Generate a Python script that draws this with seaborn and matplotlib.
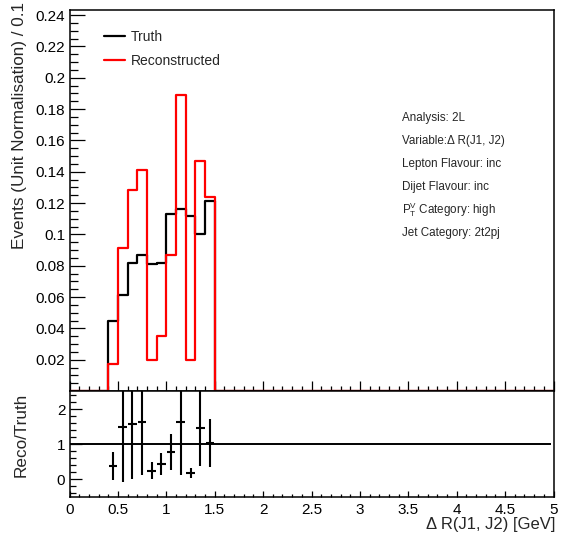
import numpy as np
import pandas as pd
import matplotlib
matplotlib.use("Agg")
import matplotlib.pyplot as plt
from matplotlib.lines import Line2D
from matplotlib.ticker import MultipleLocator, FixedLocator, FuncFormatter
import seaborn as sns

# ---- data: unit-normalised Delta R(J1, J2) distributions, 0.1 wide bins ----
bin_centres = [0.45, 0.55, 0.65, 0.75, 0.85, 0.95, 1.05, 1.15, 1.25, 1.35, 1.45]
truth = [0.045, 0.061, 0.082, 0.087, 0.081, 0.082, 0.113, 0.116, 0.112, 0.100, 0.121]
reco = [0.017, 0.091, 0.128, 0.141, 0.020, 0.035, 0.087, 0.189, 0.020, 0.147, 0.124]
ratio_err = [0.40, 1.57, 1.56, 1.49, 0.24, 0.31, 0.51, 1.50, 0.13, 1.09, 0.68]

x_range = (0.0, 5.0)
bin_width = 0.1

info_lines = [
    "Analysis: 2L",
    "Variable:\u0394 R(J1, J2)",
    "Lepton Flavour: inc",
    "Dijet Flavour: inc",
    r"P$_\mathregular{T}^\mathregular{V}$ Category: high",
    "Jet Category: 2t2pj",
]

sns.set_style("white")
plt.rcParams["font.family"] = ["Liberation Sans", "DejaVu Sans"]
plt.rcParams["mathtext.fontset"] = "custom"
plt.rcParams["mathtext.rm"] = "Liberation Sans"

df = pd.DataFrame({"dr": bin_centres, "truth": truth, "reco": reco})
df["ratio"] = df["reco"] / df["truth"]

W, H = 563, 539
fig = plt.figure(figsize=(W / 100, H / 100), dpi=100)


def frac_box(left, top, right, bottom):
    return [left / W, 1 - bottom / H, (right - left) / W, (bottom - top) / H]


ax = fig.add_axes(frac_box(69.5, 10, 553.5, 391))
axr = fig.add_axes(frac_box(69.5, 391, 553.5, 497), sharex=ax)

hist_kws = dict(data=df, x="dr", binwidth=bin_width, binrange=x_range,
                element="step", fill=False, linewidth=1.6, ax=ax)
sns.histplot(weights="truth", color="black", **hist_kws)
sns.histplot(weights="reco", color="#ff0000", **hist_kws)

fmt = FuncFormatter(lambda v, p: f"{v:g}")

ax.set_xlim(*x_range)
ax.set_ylim(0, 0.2432)
ax.set_xlabel("")
ax.set_ylabel("")
ax.yaxis.set_major_locator(FixedLocator(np.round(np.arange(0.02, 0.241, 0.02), 2)))
ax.yaxis.set_minor_locator(MultipleLocator(0.005))
ax.yaxis.set_major_formatter(fmt)
ax.xaxis.set_major_locator(MultipleLocator(0.5))
ax.xaxis.set_minor_locator(MultipleLocator(0.1))

# legend
handles = [Line2D([], [], color="black", lw=1.6), Line2D([], [], color="#ff0000", lw=1.6)]
ax.legend(handles, ["Truth", "Reconstructed"], loc="upper left",
          bbox_to_anchor=(104 / W, 1 - 30 / H), bbox_transform=fig.transFigure,
          frameon=False, fontsize=10, handlelength=1.5, handletextpad=0.4,
          labelspacing=0.72, borderpad=0, borderaxespad=0)

# category information
for i, line in enumerate(info_lines):
    fig.text(402.5 / W, 1 - (117.7 + 23.1 * i) / H, line, fontsize=8.4,
             ha="left", va="center")

# ratio panel
axr.hlines(1, 0, 4.97, color="black", lw=1.4)
axr.errorbar(df["dr"], df["ratio"], yerr=ratio_err, xerr=0.045, fmt="none",
             ecolor="black", elinewidth=1.5, capsize=0)
axr.set_ylim(-0.506, 2.514)
axr.set_xlim(*x_range)
axr.yaxis.set_major_locator(FixedLocator([0, 1, 2]))
axr.yaxis.set_minor_locator(MultipleLocator(0.2))
axr.xaxis.set_major_locator(FixedLocator(np.arange(0, 5.01, 0.5)))
axr.xaxis.set_minor_locator(MultipleLocator(0.1))
axr.xaxis.set_major_formatter(fmt)
axr.set_xlabel("")
axr.set_ylabel("")

for a in (ax, axr):
    for s in a.spines.values():
        s.set_linewidth(1.1)
        s.set_color("black")
    a.tick_params(which="both", direction="in", bottom=True, left=True,
                  top=False, right=False, width=0.9, labelsize=11,
                  colors="black")

ax.tick_params(axis="x", which="both", labelbottom=False)
ax.tick_params(axis="y", which="major", length=11, pad=3)
ax.tick_params(axis="y", which="minor", length=5.8)
ax.tick_params(axis="x", which="major", length=7.2)
ax.tick_params(axis="x", which="minor", length=3.6)
axr.tick_params(axis="y", which="major", length=8.6, pad=3)
axr.tick_params(axis="y", which="minor", length=4.3)
axr.tick_params(axis="x", which="major", length=4, pad=4)
axr.tick_params(axis="x", which="minor", length=2.2)

# axis titles
fig.text(20 / W, 1 - 249 / H, "Events (Unit Normalisation) / 0.1", rotation=90,
         fontsize=12.3, ha="center", va="bottom")
fig.text(21 / W, 1 - 393 / H, "Reco/Truth", rotation=90,
         fontsize=12.3, ha="center", va="top")
fig.text(555 / W, 1 - 524 / H, "\u0394 R(J1, J2) [GeV]", fontsize=12,
         ha="right", va="center")

fig.savefig("out.png", dpi=100)
